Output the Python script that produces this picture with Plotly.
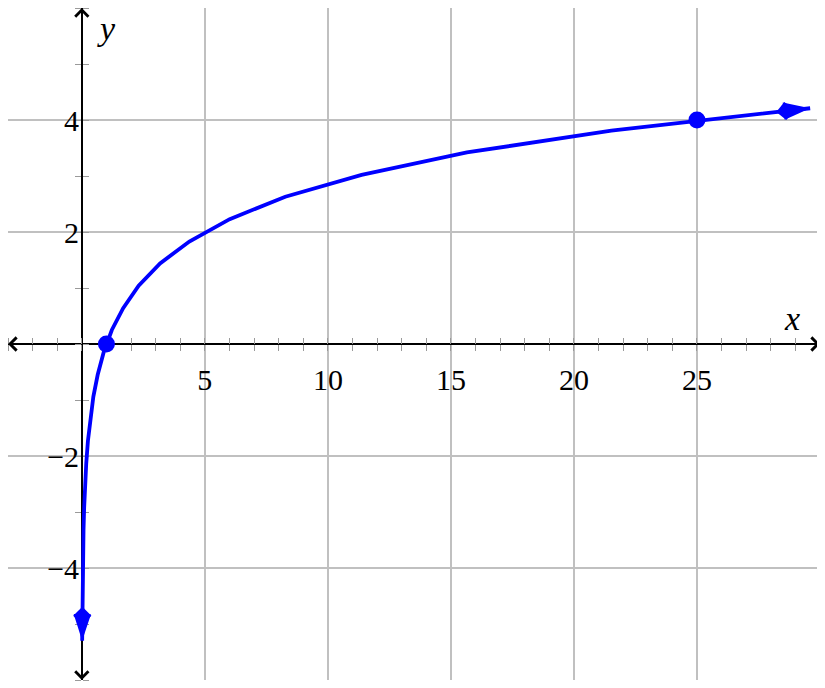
import plotly.graph_objects as go

# ---- data ----
curve_x = [0.0141, 0.0193, 0.0266, 0.0366, 0.0503, 0.0692, 0.0952, 0.131, 0.180,
           0.248, 0.341, 0.469, 0.645, 0.887, 1.22, 1.68, 2.31, 3.18, 4.37, 6.01,
           8.27, 11.37, 15.65, 21.52, 29.60]
curve_y = [-5.30, -4.90, -4.51, -4.11, -3.72, -3.32, -2.92, -2.53, -2.13, -1.73,
           -1.34, -0.94, -0.55, -0.15, 0.25, 0.64, 1.04, 1.44, 1.83, 2.23,
           2.63, 3.02, 3.42, 3.81, 4.21]
point_x = [1, 25]
point_y = [0, 4]
x_ticks = [5, 10, 15, 20, 25]
y_ticks = [-4, -2, 2, 4]
x_range = [-3, 30]
y_range = [-6, 6]

BLUE = "#0000ff"
GRID = "#c0c0c0"
TICK = "#9a9a9a"
FONT = "Liberation Serif"
TICKFONT = dict(family=FONT, size=30, color="black")

fig = go.Figure()

# curve
fig.add_trace(go.Scatter(x=curve_x, y=curve_y, mode="lines",
                         line=dict(color=BLUE, width=3.8), hoverinfo="skip"))

# arrow heads at both ends of the curve (kite = arrow + diamond)
ends_x = [curve_x[1], curve_x[0], curve_x[-2], curve_x[-1]]
ends_y = [curve_y[1], curve_y[0], curve_y[-2], curve_y[-1]]
fig.add_trace(go.Scatter(x=ends_x, y=ends_y, mode="markers", cliponaxis=False,
                         marker=dict(symbol="arrow", size=[0, 28, 0, 28], angleref="previous",
                                     opacity=1, color=BLUE, line=dict(width=0)), hoverinfo="skip"))
fig.add_trace(go.Scatter(x=ends_x, y=ends_y, mode="markers", cliponaxis=False,
                         marker=dict(symbol="diamond", size=[0, 14, 0, 14], angleref="previous",
                                     standoff=25, opacity=1, color=BLUE, line=dict(width=0)),
                         hoverinfo="skip"))

# points
fig.add_trace(go.Scatter(x=point_x, y=point_y, mode="markers",
                         marker=dict(color=BLUE, size=17, opacity=1, line=dict(width=0)),
                         hoverinfo="skip"))

# dummy trace on overlay axes so they are drawn
fig.add_trace(go.Scatter(x=[x_range[0]], y=[y_range[0]], xaxis="x2", yaxis="y2", mode="markers",
                         marker=dict(opacity=0), hoverinfo="skip"))

xpos = (0 - y_range[0]) / (y_range[1] - y_range[0])
ypos = (0 - x_range[0]) / (x_range[1] - x_range[0])

minor_out = dict(tickmode="linear", tick0=0, dtick=1, ticks="outside", ticklen=6,
                 tickcolor=TICK, tickwidth=1.2, showgrid=False)
minor_in = dict(tickmode="linear", tick0=0, dtick=1, ticks="inside", ticklen=6,
                tickcolor=TICK, tickwidth=1.2, showgrid=False)

# the page body has an 8px margin; compensate so the plot sits where the reference does
fig.update_layout(
    width=817, height=680,
    margin=dict(l=0, r=5, t=0, b=8),
    plot_bgcolor="white", paper_bgcolor="white",
    showlegend=False,
    font=dict(family=FONT, size=30, color="black"),
    xaxis=dict(range=x_range, autorange=False, anchor="free", position=xpos,
               tickmode="array", tickvals=x_ticks, ticks="", showgrid=True,
               gridcolor=GRID, gridwidth=1.5, zeroline=False, tickfont=TICKFONT,
               showline=True, linecolor="black", linewidth=1.5, layer="below traces",
               ticklabelstandoff=9, minor=minor_out, fixedrange=True),
    yaxis=dict(range=y_range, autorange=False, anchor="free", position=ypos,
               tickmode="array", tickvals=y_ticks, ticks="", showgrid=True,
               gridcolor=GRID, gridwidth=1.5, zeroline=False, tickfont=TICKFONT,
               showline=True, linecolor="black", linewidth=1.5, layer="below traces",
               ticklabelstandoff=-4, minor=minor_out, fixedrange=True),
    xaxis2=dict(range=x_range, autorange=False, overlaying="x", anchor="free", position=xpos,
                tickmode="array", tickvals=[], showticklabels=False, showgrid=False,
                zeroline=False, showline=False, layer="below traces", minor=minor_in),
    yaxis2=dict(range=y_range, autorange=False, overlaying="y", anchor="free", position=ypos,
                tickmode="array", tickvals=[], showticklabels=False, showgrid=False,
                zeroline=False, showline=False, layer="below traces", minor=minor_in),
)

arrow_common = dict(xref="x", yref="y", axref="x", ayref="y", text="", showarrow=True,
                    arrowhead=4, arrowsize=1.7, arrowwidth=1.5, arrowcolor="black",
                    standoff=0)
fig.add_annotation(x=x_range[1], y=0, ax=x_range[1] - 0.5, ay=0, **arrow_common)
fig.add_annotation(x=x_range[0], y=0, ax=x_range[0] + 0.5, ay=0, **arrow_common)
fig.add_annotation(x=0, y=y_range[1], ax=0, ay=y_range[1] - 0.3, **arrow_common)
fig.add_annotation(x=0, y=y_range[0], ax=0, ay=y_range[0] + 0.3, **arrow_common)

# axis labels
fig.add_annotation(x=28.86, y=0.45, xref="x", yref="y", text="<i>x</i>", showarrow=False,
                   font=dict(family=FONT, size=34))
fig.add_annotation(x=1.0, y=5.63, xref="x", yref="y", text="<i>y</i>", showarrow=False,
                   font=dict(family=FONT, size=34))

fig.write_html("out.html")
